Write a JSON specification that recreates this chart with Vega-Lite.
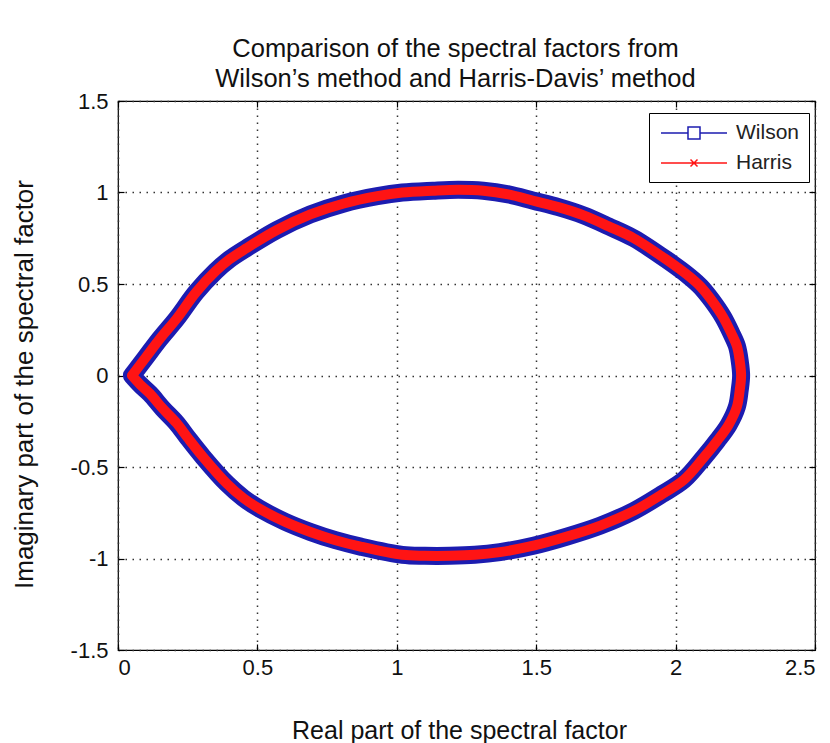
{
  "$schema": "https://vega.github.io/schema/vega-lite/v6.json",
  "width": 697,
  "height": 549,
  "autosize": {"type": "none"},
  "padding": {"left": 118, "top": 101, "right": 15, "bottom": 93},
  "background": "white",
  "config": {
    "font": "Liberation Sans",
    "view": {"stroke": "#000", "strokeWidth": 1.2},
    "axis": {
      "domain": false,
      "grid": true,
      "gridColor": "#333",
      "gridDash": [1.5, 5.5],
      "gridWidth": 1.5,
      "gridOpacity": 1,
      "tickColor": "#000",
      "tickSize": -6,
      "tickWidth": 1.2,
      "labelFont": "Liberation Sans",
      "labelFontSize": 22,
      "labelColor": "#111",
      "titleFont": "Liberation Sans",
      "titleFontSize": 25,
      "titleFontWeight": "normal",
      "titleColor": "#111"
    }
  },
  "title": {
    "text": ["Comparison of the spectral factors from", "Wilson’s method and Harris-Davis’ method"],
    "font": "Liberation Sans",
    "fontSize": 25.5,
    "fontWeight": "normal",
    "color": "#111",
    "anchor": "middle",
    "lineHeight": 30,
    "offset": -2,
    "dx": -11
  },
  "data": {
    "values": [
      {"i": 0, "re": 0.05, "im": 0.0},
      {"i": 1, "re": 0.07, "im": 0.04},
      {"i": 2, "re": 0.10, "im": 0.10},
      {"i": 3, "re": 0.15, "im": 0.20},
      {"i": 4, "re": 0.21, "im": 0.31},
      {"i": 5, "re": 0.28, "im": 0.455},
      {"i": 6, "re": 0.35, "im": 0.57},
      {"i": 7, "re": 0.40, "im": 0.635},
      {"i": 8, "re": 0.46, "im": 0.695},
      {"i": 9, "re": 0.57, "im": 0.795},
      {"i": 10, "re": 0.69, "im": 0.88},
      {"i": 11, "re": 0.81, "im": 0.94},
      {"i": 12, "re": 0.93, "im": 0.98},
      {"i": 13, "re": 1.02, "im": 1.0},
      {"i": 14, "re": 1.13, "im": 1.01},
      {"i": 15, "re": 1.22, "im": 1.015},
      {"i": 16, "re": 1.31, "im": 1.01},
      {"i": 17, "re": 1.40, "im": 0.99},
      {"i": 18, "re": 1.49, "im": 0.955},
      {"i": 19, "re": 1.58, "im": 0.92},
      {"i": 20, "re": 1.67, "im": 0.875},
      {"i": 21, "re": 1.76, "im": 0.815},
      {"i": 22, "re": 1.85, "im": 0.75},
      {"i": 23, "re": 1.97, "im": 0.63},
      {"i": 24, "re": 2.05, "im": 0.54},
      {"i": 25, "re": 2.09, "im": 0.485},
      {"i": 26, "re": 2.13, "im": 0.41},
      {"i": 27, "re": 2.17, "im": 0.32},
      {"i": 28, "re": 2.20, "im": 0.23},
      {"i": 29, "re": 2.22, "im": 0.16},
      {"i": 30, "re": 2.23, "im": 0.08},
      {"i": 31, "re": 2.235, "im": 0.0},
      {"i": 32, "re": 2.23, "im": -0.08},
      {"i": 33, "re": 2.22, "im": -0.17},
      {"i": 34, "re": 2.19, "im": -0.27},
      {"i": 35, "re": 2.15, "im": -0.355},
      {"i": 36, "re": 2.10, "im": -0.45},
      {"i": 37, "re": 2.03, "im": -0.57},
      {"i": 38, "re": 1.95, "im": -0.65},
      {"i": 39, "re": 1.85, "im": -0.74},
      {"i": 40, "re": 1.73, "im": -0.82},
      {"i": 41, "re": 1.61, "im": -0.88},
      {"i": 42, "re": 1.49, "im": -0.93},
      {"i": 43, "re": 1.37, "im": -0.965},
      {"i": 44, "re": 1.28, "im": -0.98},
      {"i": 45, "re": 1.19, "im": -0.985},
      {"i": 46, "re": 1.10, "im": -0.985},
      {"i": 47, "re": 1.02, "im": -0.98},
      {"i": 48, "re": 0.87, "im": -0.935},
      {"i": 49, "re": 0.78, "im": -0.90},
      {"i": 50, "re": 0.69, "im": -0.855},
      {"i": 51, "re": 0.60, "im": -0.80},
      {"i": 52, "re": 0.51, "im": -0.73},
      {"i": 53, "re": 0.45, "im": -0.67},
      {"i": 54, "re": 0.39, "im": -0.59},
      {"i": 55, "re": 0.305, "im": -0.445},
      {"i": 56, "re": 0.25, "im": -0.34},
      {"i": 57, "re": 0.21, "im": -0.26},
      {"i": 58, "re": 0.16, "im": -0.18},
      {"i": 59, "re": 0.115, "im": -0.10},
      {"i": 60, "re": 0.08, "im": -0.05},
      {"i": 61, "re": 0.05, "im": 0.0}
    ]
  },
  "resolve": {"axis": {"x": "independent", "y": "independent"}},
  "layer": [
    {
      "mark": {"type": "line", "strokeWidth": 18, "strokeCap": "round", "strokeJoin": "round", "interpolate": "catmull-rom"},
      "encoding": {
        "x": {
          "field": "re", "type": "quantitative",
          "scale": {"domain": [0, 2.5], "nice": false, "zero": false},
          "axis": {
            "values": [0, 0.5, 1, 1.5, 2, 2.5],
            "labelExpr": "'' + datum.value",
            "labelFontSize": 22,
            "labelPadding": 13,
            "title": "Real part of the spectral factor",
            "titleX": 341,
            "titleY": 88,
            "titleBaseline": "alphabetic",
            "titleAnchor": "middle"
          }
        },
        "y": {
          "field": "im", "type": "quantitative",
          "scale": {"domain": [-1.5, 1.5], "nice": false, "zero": false},
          "axis": {
            "values": [-1.5, -1, -0.5, 0, 0.5, 1, 1.5],
            "labelExpr": "'' + datum.value",
            "labelFontSize": 22,
            "labelPadding": 16,
            "title": "Imaginary part of the spectral factor",
            "titleFontSize": 26,
            "titleX": -86,
            "titleY": 283,
            "titleBaseline": "alphabetic",
            "titleAnchor": "middle"
          }
        },
        "order": {"field": "i", "type": "quantitative"},
        "color": {
          "datum": "Wilson",
          "type": "nominal",
          "scale": {"domain": ["Wilson", "Harris"], "range": ["#1c1cb0", "#ff1414"]},
          "legend": {
            "orient": "none",
            "legendX": 531,
            "legendY": 12,
            "title": null,
            "strokeColor": "#000",
            "fillColor": "#fff",
            "padding": 9,
            "symbolSize": 400,
            "symbolOffset": 25,
            "symbolStrokeWidth": 1.5,
            "labelFont": "Liberation Sans",
            "labelFontSize": 21,
            "labelColor": "#222",
            "labelOffset": 31,
            "rowPadding": 9,
            "encode": {
              "symbols": {
                "update": {
                  "shape": {"signal": "datum.value === 'Wilson' ? 'M-3.3,0H-0.6M0.6,0H3.3M-0.6,-0.6H0.6V0.6H-0.6Z' : 'M-3.3,0H3.3M-0.35,-0.35L0.35,0.35M-0.35,0.35L0.35,-0.35'"},
                  "strokeWidth": {"value": 1.5},
                  "fill": {"value": "transparent"}
                }
              }
            }
          }
        }
      }
    },
    {
      "mark": {"type": "line", "strokeWidth": 10, "strokeCap": "round", "strokeJoin": "round", "interpolate": "catmull-rom"},
      "encoding": {
        "x": {
          "field": "re", "type": "quantitative",
          "axis": {"orient": "top", "values": [0, 0.5, 1, 1.5, 2, 2.5], "labels": false, "title": null, "grid": false}
        },
        "y": {
          "field": "im", "type": "quantitative",
          "axis": {"orient": "right", "values": [-1.5, -1, -0.5, 0, 0.5, 1, 1.5], "labels": false, "title": null, "grid": false}
        },
        "order": {"field": "i", "type": "quantitative"},
        "color": {"datum": "Harris", "type": "nominal"}
      }
    }
  ]
}
